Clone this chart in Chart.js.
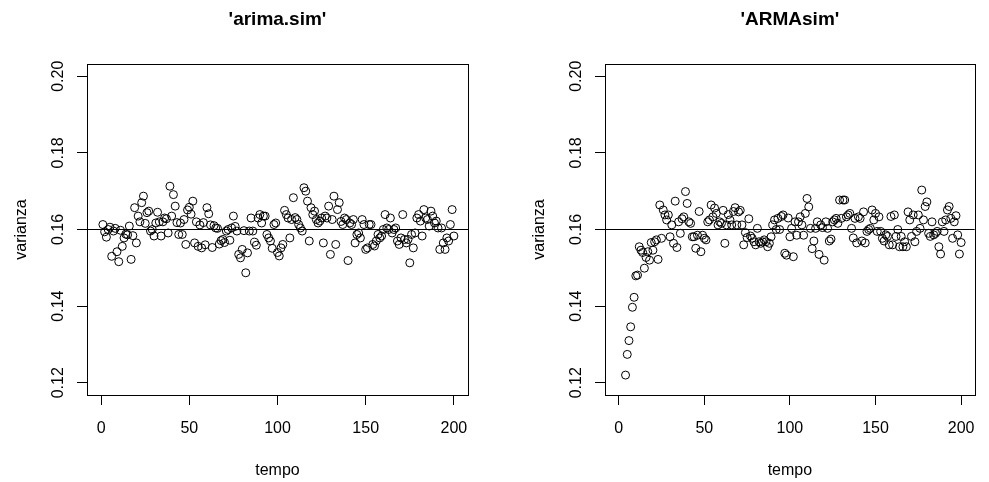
<!DOCTYPE html>
<html><head><meta charset="utf-8">
<script src="https://cdn.jsdelivr.net/npm/chart.js@4.4.1/dist/chart.umd.min.js"></script>
<style>
html,body{margin:0;padding:0;background:#fff;}
#wrap{position:relative;width:989px;height:482px;overflow:hidden;background:#fff;}
.p{position:absolute;top:0;height:482px;}
#p1{left:0;width:518px;}
#p2{left:518px;width:471px;}
</style></head><body>
<div id="wrap">
<div class="p" id="p1"><canvas id="c1" width="518" height="482"></canvas></div>
<div class="p" id="p2"><canvas id="c2" width="471" height="482"></canvas></div>
</div>
<script>
// ---- data ----
const panelTitles = ["'arima.sim'", "'ARMAsim'"];
const xTitle = 'tempo';
const yTitle = 'varianza';
const xTicks = [0, 50, 100, 150, 200];
const yTicks = [0.12, 0.14, 0.16, 0.18, 0.20];
const refLevel = 0.16;

const arimaStart = 1;
const arimaVar = [
0.1613,0.1594,0.1580,0.1600,0.1606,0.1530,0.1596,0.1603,0.1542,0.1516,
0.1598,0.1556,0.1578,0.1588,0.1586,0.1609,0.1522,0.1584,0.1657,0.1565,
0.1635,0.1620,0.1670,0.1687,0.1616,0.1644,0.1648,0.1596,0.1600,0.1583,
0.1617,0.1645,0.1620,0.1583,0.1620,0.1630,0.1628,0.1591,0.1713,0.1635,
0.1691,0.1661,0.1618,0.1587,0.1617,0.1587,0.1626,0.1561,0.1651,0.1658,
0.1640,0.1674,0.1565,0.1620,0.1556,0.1612,0.1552,0.1618,0.1560,
0.1657,0.1641,0.1612,0.1553,0.1610,0.1604,0.1603,0.1562,0.1571,0.1574,
0.1566,0.1596,0.1600,0.1572,0.1604,0.1635,0.1608,0.1596,0.1535,0.1526,
0.1548,0.1597,0.1487,0.1539,0.1596,0.1630,0.1596,0.1567,0.1559,0.1630,
0.1639,0.1617,0.1635,0.1635,0.1587,0.1578,0.1570,0.1551,0.1613,0.1617,
0.1540,0.1531,0.1552,0.1561,0.1650,0.1639,0.1630,0.1578,0.1626,0.1683,
0.1631,0.1626,0.1613,0.1604,0.1596,
0.1709,0.1700,0.1674,0.1570,0.1657,0.1639,
0.1648,0.1626,0.1617,0.1622,0.1630,0.1565,0.1635,0.1630,0.1661,0.1535,
0.1626,0.1687,0.1561,0.1652,0.1670,0.1621,0.1613,0.1630,0.1626,0.1519,
0.1617,0.1613,0.1626,0.1565,0.1587,0.1591,0.1578,0.1626,0.1613,0.1548,
0.1552,0.1613,0.1613,0.1561,0.1557,0.1570,0.1587,0.1578,0.1583,0.1600,
0.1639,0.1604,0.1600,0.1630,0.1591,0.1600,0.1604,0.1570,0.1561,0.1578,
0.1639,0.1574,0.1565,0.1574,0.1513,0.1587,0.1552,0.1591,0.1630,0.1639,
0.1622,0.1583,0.1652,0.1630,0.1626,0.1609,0.1648,0.1635,0.1617,0.1622,
0.1604,0.1548,0.1604,0.1565,0.1548,0.1578,0.1570,0.1613,0.1652,0.1583
];

const armaStart = 4;
const armaVar = [
0.1220,0.1274,0.1310,0.1346,0.1397,0.1423,0.1479,0.1481,
0.1555,0.1546,0.1540,0.1499,0.1527,0.1542,0.1520,0.1566,0.1546,0.1568,
0.1573,0.1522,0.1664,0.1577,0.1651,0.1638,0.1625,
0.1638,0.1581,0.1612,0.1564,0.1674,0.1553,0.1620,0.1590,0.1628,0.1633,
0.1699,0.1668,0.1620,0.1616,0.1581,0.1581,0.1551,0.1585,0.1647,0.1542,
0.1585,0.1577,0.1573,0.1620,0.1625,0.1664,0.1633,0.1656,0.1642,0.1612,
0.1620,0.1616,0.1650,0.1564,0.1612,0.1639,0.1625,0.1612,0.1647,0.1657,
0.1612,0.1646,0.1650,0.1612,0.1560,0.1592,0.1579,0.1628,0.1583,0.1577,
0.1568,0.1560,0.1603,0.1568,0.1564,0.1568,0.1573,
0.1568,0.1555,0.1564,0.1581,0.1612,0.1625,0.1600,0.1629,0.1600,0.1634,
0.1638,0.1538,0.1533,0.1630,0.1581,0.1603,0.1529,0.1620,0.1585,0.1620,
0.1633,0.1612,0.1585,0.1642,0.1681,0.1659,0.1603,0.1550,0.1570,0.1603,
0.1620,0.1535,0.1612,0.1605,0.1520,0.1620,0.1603,0.1570,0.1575,0.1620,
0.1625,0.1629,0.1616,0.1677,0.1629,0.1677,0.1677,0.1633,0.1638,0.1642,
0.1603,0.1578,0.1629,0.1565,0.1633,0.1629,0.1570,0.1646,0.1565,
0.1595,0.1600,0.1603,0.1651,0.1625,0.1642,0.1595,0.1633,0.1595,0.1577,
0.1570,0.1586,0.1582,0.1560,0.1634,0.1560,0.1638,0.1582,0.1600,0.1555,
0.1582,0.1555,0.1568,0.1555,0.1646,0.1625,0.1582,0.1638,0.1568,0.1595,
0.1638,0.1603,0.1703,0.1625,0.1660,0.1672,0.1590,0.1582,0.1620,0.1586,
0.1590,0.1595,0.1555,0.1536,0.1620,0.1595,0.1625,0.1651,0.1660,0.1629,
0.1577,0.1620,0.1636,0.1586,0.1536,0.1566
];

// ---- rendering ----
const FAMILY = '"Liberation Sans", Arial, Helvetica, sans-serif';
const baseFont = {family: FAMILY, size: 16};
const xMin = -8, xMax = 208;
const yMin = 0.1168, yMax = 0.2032;

const boxPlugin = {
  id: 'rbox',
  afterDatasetsDraw(chart) {
    const {ctx, chartArea: a} = chart;
    ctx.save();
    ctx.strokeStyle = '#000';
    ctx.lineWidth = 1;
    ctx.strokeRect(Math.round(a.left) + 0.5, Math.round(a.top) + 0.5,
                   Math.round(a.right - a.left), Math.round(a.bottom - a.top));
    ctx.restore();
  }
};

function toPoints(vals, start) {
  return vals.map((v, i) => ({x: start + i, y: v}));
}

function makeChart(id, title, vals, start, rightPad) {
  const grid = {drawOnChartArea: false, drawTicks: true, tickLength: 10, color: '#000', lineWidth: 1};
  return new Chart(document.getElementById(id), {
    type: 'scatter',
    data: {
      datasets: [
        {
          data: toPoints(vals, start),
          pointStyle: 'circle',
          pointRadius: 4,
          pointBorderWidth: 1,
          borderColor: '#000',
          backgroundColor: 'rgba(0,0,0,0)',
          pointBackgroundColor: 'rgba(0,0,0,0)',
          pointBorderColor: '#000',
          showLine: false
        },
        {
          data: [{x: xMin, y: refLevel}, {x: xMax, y: refLevel}],
          showLine: true,
          pointRadius: 0,
          borderColor: '#000',
          borderWidth: 1
        }
      ]
    },
    options: {
      responsive: false,
      animation: false,
      events: [],
      layout: {padding: {left: 0, right: rightPad, top: 0, bottom: 0}},
      plugins: {
        legend: {display: false},
        tooltip: {enabled: false},
        title: {
          display: true, text: title, fullSize: false,
          font: {family: FAMILY, size: 19, weight: 'bold'}, color: '#000',
          padding: {top: 8, bottom: 33.2}
        }
      },
      scales: {
        x: {
          type: 'linear', min: xMin, max: xMax,
          afterBuildTicks: s => { s.ticks = xTicks.map(v => ({value: v})); },
          afterFit: s => { s.height = 87; },
          grid: grid,
          border: {display: false},
          ticks: {font: baseFont, color: '#000', padding: 14, maxRotation: 0, autoSkip: false,
                  callback: v => String(v)},
          title: {display: true, text: xTitle, font: baseFont, color: '#000', padding: {top: 0, bottom: 2}}
        },
        y: {
          type: 'linear', min: yMin, max: yMax,
          afterBuildTicks: s => { s.ticks = yTicks.map(v => ({value: v})); },
          afterFit: s => { s.width = 87; },
          grid: grid,
          border: {display: false},
          ticks: {font: baseFont, color: '#000', padding: 3, minRotation: 90, maxRotation: 90,
                  crossAlign: 'center', autoSkip: false, callback: v => v.toFixed(2)},
          title: {display: true, text: yTitle, font: baseFont, color: '#000', padding: {top: 12, bottom: 0}}
        }
      }
    },
    plugins: [boxPlugin]
  });
}

makeChart('c1', panelTitles[0], arimaVar, arimaStart, 518 - 468);
makeChart('c2', panelTitles[1], armaVar, armaStart, 471 - 468);
</script>
</body></html>
